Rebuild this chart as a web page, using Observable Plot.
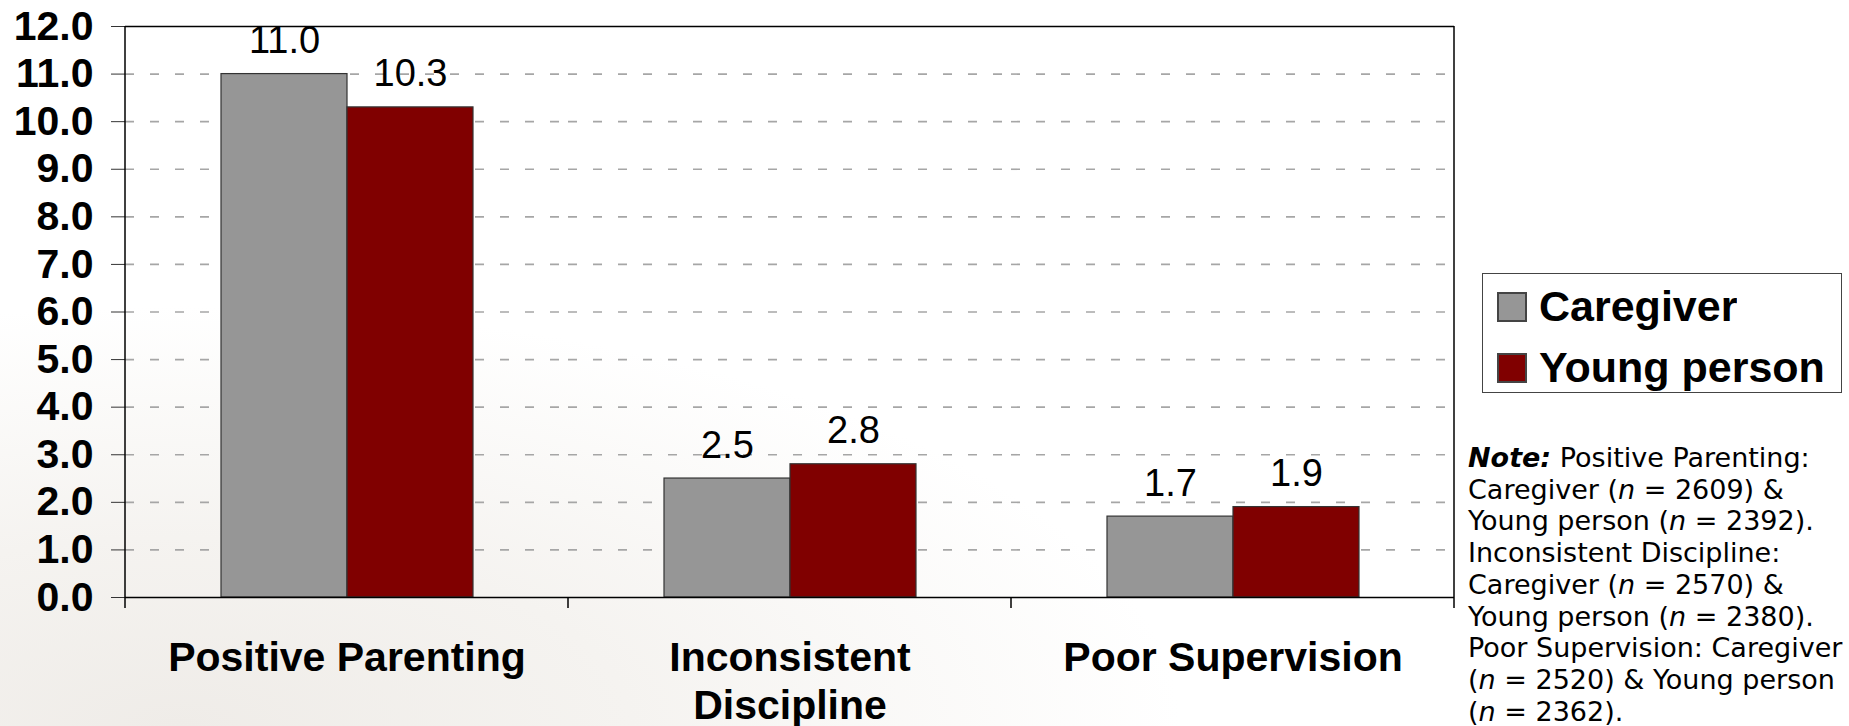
<!DOCTYPE html>
<html>
<head>
<meta charset="utf-8">
<script src="https://cdn.jsdelivr.net/npm/d3@7"></script>
<script src="https://cdn.jsdelivr.net/npm/@observablehq/plot@0.6"></script>
<style>
html, body { margin: 0; padding: 0; }
body { width: 1849px; height: 726px; position: relative; overflow: hidden; background: #fff; }
#bg { position: absolute; left: 0; top: 0; width: 1849px; height: 726px;
  background: radial-gradient(ellipse 1000px 420px at 180px 726px, #efece8 0%, #f5f3f0 45%, rgba(255,255,255,0) 100%); }
#chart { position: absolute; left: 0; top: 0; }
#legend { position: absolute; left: 1482px; top: 273px; width: 358px; height: 118px; border: 1.5px solid #444; background: #fff; }
#legend .lg-swatches { margin: 0; padding: 2px 0 0 15px; font-family: "Liberation Sans", Arial, sans-serif; font-size: 43px; font-weight: bold; color: #000; }
#legend .lg-swatch { height: 61px; display: flex; align-items: center; padding: 0; margin: 0; }
#legend .lg-swatch svg { margin-right: 13px; overflow: visible; }
#legend .lg-swatch svg rect { stroke: #444; stroke-width: 2px; }
#note { position: absolute; left: 1468px; top: 442px; font-family: "DejaVu Sans", Verdana, sans-serif; font-size: 27px; line-height: 31.7px; color: #000; white-space: nowrap; }
</style>
</head>
<body>
<div id="bg"></div>
<div id="chart"></div>
<div id="legend"></div>
<div id="note"><b><i>Note:</i></b> Positive Parenting:<br>Caregiver (<i>n</i> = 2609) &amp;<br>Young person (<i>n</i> = 2392).<br>Inconsistent Discipline:<br>Caregiver (<i>n</i> = 2570) &amp;<br>Young person (<i>n</i> = 2380).<br>Poor Supervision: Caregiver<br>(<i>n</i> = 2520) &amp; Young person<br>(<i>n</i> = 2362).</div>
<script>
// ---- data ----
const categories = ["Positive Parenting", "Inconsistent Discipline", "Poor Supervision"];
const categoryTickLabels = ["Positive Parenting", "Inconsistent\nDiscipline", "Poor Supervision"];
const series = ["Caregiver", "Young person"];
const caregiverValues = [11.0, 2.5, 1.7];
const youngPersonValues = [10.3, 2.8, 1.9];
const yTicks = [0, 1, 2, 3, 4, 5, 6, 7, 8, 9, 10, 11, 12];
const seriesColors = ["#969696", "#800000"];

const rows = categories.flatMap((c, i) => [
  {category: c, series: series[0], value: caregiverValues[i]},
  {category: c, series: series[1], value: youngPersonValues[i]}
]);

const font = "'Liberation Sans', Arial, Helvetica, sans-serif";
const fmt = d3.format(".1f");

const chart = Plot.plot({
  width: 1849, height: 726,
  marginLeft: 124, marginRight: 395, marginTop: 26, marginBottom: 129,
  style: {background: "transparent", fontFamily: font, color: "#000", overflow: "visible"},
  fx: {domain: categories, padding: 0, label: null},
  x: {domain: series, paddingInner: 0, paddingOuter: 0.745, axis: null, label: null},
  y: {domain: [yTicks[0], yTicks[yTicks.length - 1]], label: null},
  color: {domain: series, range: seriesColors},
  marks: [
    Plot.ruleY(yTicks.slice(1, -1), {stroke: "#a6a6a6", strokeWidth: 1.6, strokeDasharray: "9,16"}),
    Plot.barY(rows, {fx: "category", x: "series", y: "value", fill: "series", stroke: "#333", strokeWidth: 1.2}),
    Plot.text(rows, {fx: "category", x: "series", y: "value", text: d => fmt(d.value), lineAnchor: "bottom", dy: -21, fontSize: 38, fill: "#000"}),
    Plot.ruleY([yTicks[0], yTicks[yTicks.length - 1]], {stroke: "#000", strokeWidth: 1.5}),
    Plot.axisY(yTicks, {anchor: "left", tickFormat: fmt, tickSize: 14, tickPadding: 18, fontSize: 41, fontWeight: "bold", stroke: "#333", label: null}),
    Plot.axisFx({anchor: "bottom", tickSize: 0, tickPadding: 39, fontSize: 41, fontWeight: "bold", lineHeight: 1.18,
      tickFormat: d => categoryTickLabels[categories.indexOf(d)], label: null})
  ]
});
document.getElementById("chart").appendChild(chart);

// plot-area border & category boundary ticks, placed via the plot's own scales
const fx = chart.scale("fx"), y = chart.scale("y");
const yBottom = y.apply(yTicks[0]), yTop = y.apply(yTicks[yTicks.length - 1]);
const edges = categories.map(c => fx.apply(c));
edges.push(fx.apply(categories[categories.length - 1]) + fx.bandwidth);
const g = d3.select(chart).append("g").attr("stroke", "#000").attr("stroke-width", 1.5);
edges.forEach((ex, i) => {
  const full = i === 0 || i === edges.length - 1;
  g.append("line").attr("x1", ex).attr("x2", ex)
    .attr("y1", full ? yTop : yBottom).attr("y2", yBottom + 11);
});

// legend from the plot's color scale
const legend = chart.legend("color", {legend: "swatches", columns: 1, swatchSize: 28, className: "lg"});
document.getElementById("legend").appendChild(legend);
</script>
</body>
</html>
